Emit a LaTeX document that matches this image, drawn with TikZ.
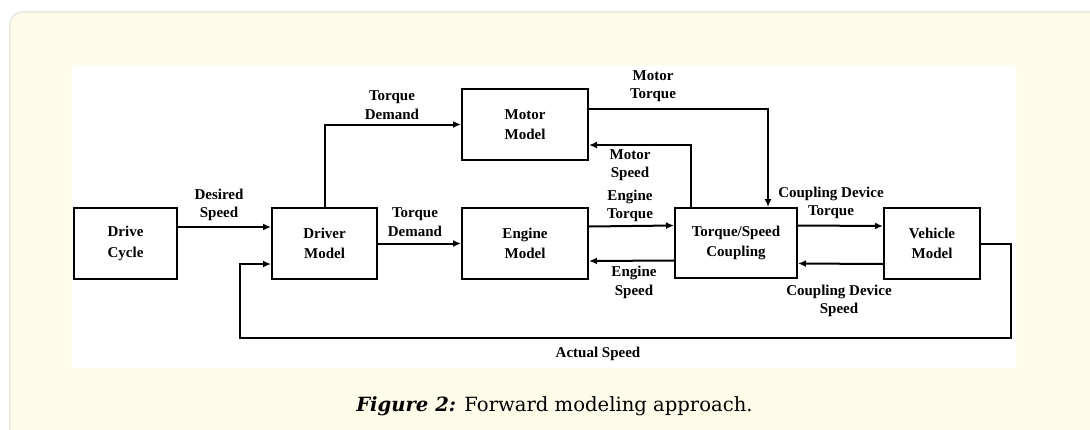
\documentclass[tikz,border=0pt]{standalone}
\usepackage{fontspec}
\setmainfont{Liberation Serif}
\newfontfamily\capfont{DejaVu Serif}
\usetikzlibrary{arrows.meta}
\definecolor{panelfill}{HTML}{FFFBE9}
\definecolor{paneledge}{HTML}{ECEAE0}
\tikzset{
  blk/.style={draw=black, line width=2pt, fill=white, align=center,
    font=\fontsize{15}{20.5}\selectfont\bfseries, inner sep=0pt},
  sig/.style={line width=2pt, -{Latex[length=8pt,width=7pt]}},
  lbl/.style={align=center, inner sep=0pt,
    font=\fontsize{15}{18.5}\selectfont\bfseries}
}
\begin{document}
\begin{tikzpicture}[x=1pt,y=-1pt]
\useasboundingbox (0,0) rectangle (1090,429);
% page panel and white figure area
\begin{scope}
  \clip (0,0) rectangle (1090,429);
  \draw[fill=panelfill, draw=paneledge, line width=1.6pt, rounded corners=12pt]
    (10,12) rectangle (1120,460);
\end{scope}
\fill[white] (72,65) rectangle (1016,368);

% blocks
\node[blk, minimum width=103pt, minimum height=71pt] (dc)  at (125.5,243.5) {Drive\\Cycle};
\node[blk, minimum width=105pt, minimum height=71pt] (drv) at (324.5,243.5) {Driver\\Model};
\node[blk, minimum width=126pt, minimum height=71pt] (mot) at (525,124.5) {Motor\\Model};
\node[blk, minimum width=126pt, minimum height=71pt] (eng) at (525,243.5) {Engine\\Model};
\node[blk, minimum width=122pt, minimum height=70pt] (cpl) at (736,243) {Torque/Speed\\Coupling};
\node[blk, minimum width=96pt, minimum height=71pt]  (veh) at (932,243.5) {Vehicle\\Model};

% feedback corners
\coordinate (fbR) at (1011,338);
\coordinate (fbL) at (240,338);

% signals
\draw[sig] ([yshift=16.5pt]dc.east) -- ([yshift=16.5pt]drv.west);
\draw[sig] (drv.north) |- (mot.west);
\draw[sig] (drv.east) -- (eng.west);
\draw[sig] ([yshift=15.5pt]mot.east) -| ([xshift=32pt]cpl.north);
\draw[sig] ([xshift=-45pt]cpl.north) |- ([yshift=-20.5pt]mot.east);
\draw[sig] ([yshift=17pt]eng.east) -- ([yshift=17.5pt]cpl.west);
\draw[sig] ([yshift=-17.5pt]cpl.west) -- ([yshift=-17.5pt]eng.east);
\draw[sig] ([yshift=17.5pt]cpl.east) -- ([yshift=17.5pt]veh.west);
\draw[sig] ([yshift=-20.5pt]veh.west) -- ([yshift=-20.5pt]cpl.east);
\draw[sig] (veh.east) -| (fbR) -- (fbL) |- ([yshift=-20.5pt]drv.west);

% signal labels
\node[lbl] (l1)  at (219,205)   {Desired\\Speed};
\node[lbl] (l2)  at (392,105)   {Torque\\Demand};
\node[lbl] (l3)  at (415,222)   {Torque\\Demand};
\node[lbl] (l4)  at (653,86)    {Motor\\Torque};
\node[lbl] (l5)  at (630,165)   {Motor\\Speed};
\node[lbl] (l6)  at (630,206)   {Engine\\Torque};
\node[lbl] (l7)  at (634,282.5) {Engine\\Speed};
\node[lbl] (l8)  at (831,203)   {Coupling Device\\Torque};
\node[lbl] (l9)  at (839,301)   {Coupling Device\\Speed};
\node[lbl] (l10) at (598,354)   {Actual Speed};

% caption
\node[inner sep=0pt, anchor=base] (cap) at (554.5,411)
  {\capfont\fontsize{19.6}{22}\selectfont\textbf{\textit{Figure 2:}} Forward modeling approach.};
\end{tikzpicture}
\end{document}
